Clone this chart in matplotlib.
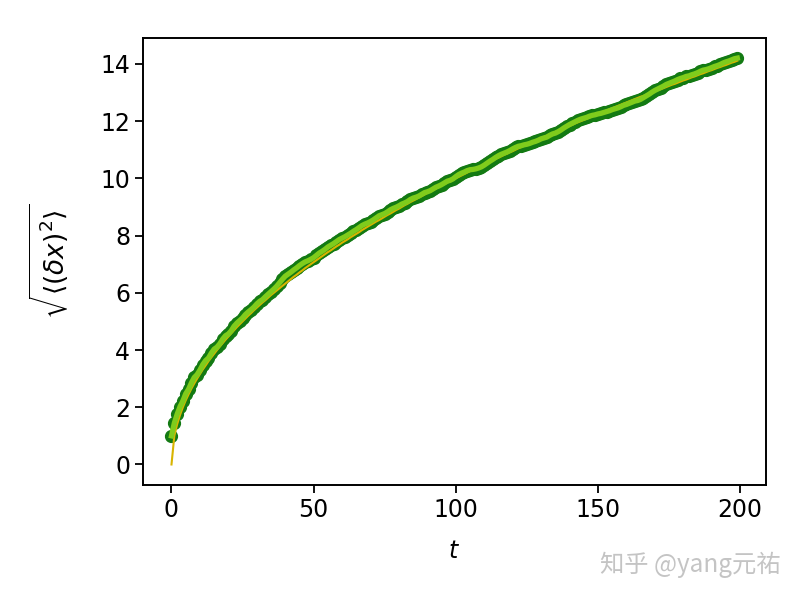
import matplotlib
matplotlib.use("Agg")
import matplotlib.pyplot as plt
import numpy as np

# time steps
t = list(range(200))

rms = [
    1.00, 1.45, 1.76, 2.02, 2.22, 2.47, 2.63, 2.85, 3.04, 3.14,
    3.30, 3.49, 3.63, 3.72, 3.89, 4.03, 4.10, 4.22, 4.38, 4.50,
    4.56, 4.67, 4.83, 4.94, 5.03, 5.12, 5.24, 5.33, 5.41, 5.50,
    5.61, 5.70, 5.76, 5.86, 5.95, 6.04, 6.13, 6.23, 6.35, 6.47,
    6.58, 6.65, 6.72, 6.80, 6.87, 6.95, 7.02, 7.08, 7.12, 7.17,
    7.23, 7.31, 7.39, 7.45, 7.52, 7.60, 7.66, 7.72, 7.79, 7.86,
    7.91, 7.96, 8.02, 8.08, 8.15, 8.21, 8.28, 8.35, 8.40, 8.44,
    8.49, 8.55, 8.62, 8.69, 8.73, 8.77, 8.83, 8.90, 8.95, 8.99,
    9.04, 9.10, 9.14, 9.19, 9.26, 9.31, 9.34, 9.38, 9.44, 9.50,
    9.53, 9.57, 9.63, 9.69, 9.73, 9.78, 9.84, 9.90, 9.93, 9.98,
    10.06, 10.13, 10.18, 10.22, 10.27, 10.30, 10.31, 10.33, 10.36, 10.40,
    10.46, 10.53, 10.60, 10.66, 10.73, 10.79, 10.84, 10.88, 10.92, 10.97,
    11.03, 11.08, 11.12, 11.14, 11.17, 11.19, 11.22, 11.26, 11.29, 11.33,
    11.38, 11.41, 11.44, 11.50, 11.55, 11.58, 11.63, 11.69, 11.76, 11.82,
    11.88, 11.93, 11.98, 12.03, 12.07, 12.10, 12.13, 12.17, 12.20, 12.22,
    12.25, 12.27, 12.30, 12.33, 12.36, 12.40, 12.43, 12.46, 12.50, 12.55,
    12.58, 12.62, 12.66, 12.70, 12.72, 12.76, 12.82, 12.88, 12.94, 13.01,
    13.07, 13.12, 13.17, 13.22, 13.28, 13.32, 13.36, 13.40, 13.45, 13.49,
    13.52, 13.56, 13.58, 13.62, 13.65, 13.69, 13.74, 13.78, 13.80, 13.83,
    13.87, 13.91, 13.94, 13.98, 14.03, 14.07, 14.10, 14.14, 14.18, 14.20,
]

# theoretical curve values at the same time steps
theory = [
    0.00, 1.00, 1.41, 1.73, 2.00, 2.24, 2.45, 2.65, 2.83, 3.00,
    3.16, 3.32, 3.46, 3.61, 3.74, 3.87, 4.00, 4.12, 4.24, 4.36,
    4.47, 4.58, 4.69, 4.80, 4.90, 5.00, 5.10, 5.20, 5.29, 5.39,
    5.48, 5.57, 5.66, 5.74, 5.83, 5.92, 6.00, 6.08, 6.16, 6.24,
    6.32, 6.40, 6.48, 6.56, 6.63, 6.71, 6.78, 6.86, 6.93, 7.00,
    7.07, 7.14, 7.21, 7.28, 7.35, 7.42, 7.48, 7.55, 7.62, 7.68,
    7.75, 7.81, 7.87, 7.94, 8.00, 8.06, 8.12, 8.19, 8.25, 8.31,
    8.37, 8.43, 8.49, 8.54, 8.60, 8.66, 8.72, 8.77, 8.83, 8.89,
    8.94, 9.00, 9.06, 9.11, 9.17, 9.22, 9.27, 9.33, 9.38, 9.43,
    9.49, 9.54, 9.59, 9.64, 9.70, 9.75, 9.80, 9.85, 9.90, 9.95,
    10.00, 10.05, 10.10, 10.15, 10.20, 10.25, 10.30, 10.34, 10.39, 10.44,
    10.49, 10.54, 10.58, 10.63, 10.68, 10.72, 10.77, 10.82, 10.86, 10.91,
    10.95, 11.00, 11.05, 11.09, 11.14, 11.18, 11.22, 11.27, 11.31, 11.36,
    11.40, 11.45, 11.49, 11.53, 11.58, 11.62, 11.66, 11.70, 11.75, 11.79,
    11.83, 11.87, 11.92, 11.96, 12.00, 12.04, 12.08, 12.12, 12.17, 12.21,
    12.25, 12.29, 12.33, 12.37, 12.41, 12.45, 12.49, 12.53, 12.57, 12.61,
    12.65, 12.69, 12.73, 12.77, 12.81, 12.85, 12.88, 12.92, 12.96, 13.00,
    13.04, 13.08, 13.11, 13.15, 13.19, 13.23, 13.27, 13.30, 13.34, 13.38,
    13.42, 13.45, 13.49, 13.53, 13.56, 13.60, 13.64, 13.67, 13.71, 13.75,
    13.78, 13.82, 13.86, 13.89, 13.93, 13.96, 14.00, 14.04, 14.07, 14.11,
]

xticks = [0, 50, 100, 150, 200]
yticks = [0, 2, 4, 6, 8, 10, 12, 14]

plt.rcParams['font.family'] = ['DejaVu Sans']
plt.rcParams['mathtext.fontset'] = 'dejavusans'

fig = plt.figure(figsize=(8, 6), dpi=100)
ax = fig.add_axes([0.179, 0.192, 0.778, 0.745])

ax.plot(t, rms, 'o', color='#137a13', markersize=8.5, zorder=2)
ax.plot(t, theory, '-', color='#d8b400', linewidth=1.5, zorder=3)
ax.plot(t, rms, '-', color='#7fcc1c', linewidth=3.8, zorder=4)

ax.set_xticks(xticks)
ax.set_yticks(yticks)
ax.tick_params(labelsize=17, length=6, width=1.3)
for s in ax.spines.values():
    s.set_linewidth(1.4)
ax.set_xlabel(r'$t$', fontsize=17, labelpad=12)
ax.set_ylabel(r'$\sqrt{\langle(\delta x)^2\rangle}$', fontsize=19, labelpad=21)

fig.text(0.975, 0.058, '知乎 @yang元祐', ha='right', va='center', fontsize=17.5,
         color='#c4c4c4', family=['Noto Sans CJK SC', 'DejaVu Sans'])

fig.savefig('out.png', dpi=100)
